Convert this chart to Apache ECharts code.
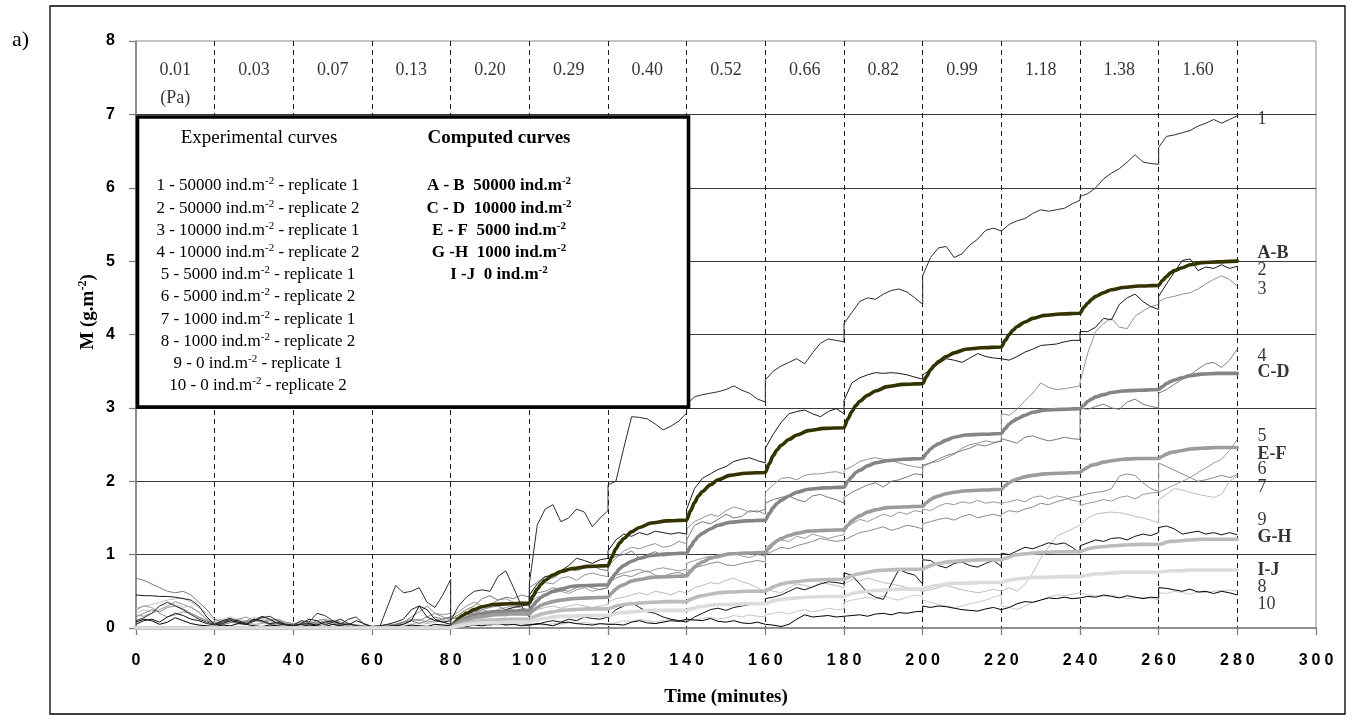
<!DOCTYPE html>
<html><head><meta charset="utf-8">
<script src="https://cdn.jsdelivr.net/npm/echarts@6/dist/echarts.min.js"></script>
<style>html,body{margin:0;padding:0;background:#fff}#c{width:1355px;height:719px}</style>
</head><body><div id="c"></div>
<script>
// ---------- DATA ----------
// sampling times of experimental curves (each 20-min step listed with its start and end, so jumps are vertical)
const expTime = [
0,2,4,6,8,10,12,14,16,18,20,
20,22,24,26,28,30,32,34,36,38,40,
40,42,44,46,48,50,52,54,56,58,60,
60,62,64,66,68,70,72,74,76,78,80,
80,82,84,86,88,90,92,94,96,98,100,
100,102,104,106,108,110,112,114,116,118,120,
120,122,124,126,128,130,132,134,136,138,140,
140,142,144,146,148,150,152,154,156,158,160,
160,162,164,166,168,170,172,174,176,178,180,
180,182,184,186,188,190,192,194,196,198,200,
200,202,204,206,208,210,212,214,216,218,220,
220,222,224,226,228,230,232,234,236,238,240,
240,242,244,246,248,250,252,254,256,258,260,
260,262,264,266,268,270,272,274,276,278,280];

const exp1 = [
0.1,0.14,0.2,0.3,0.35,0.3,0.25,0.18,0.12,0.08,0.05,
0.05,0.08,0.12,0.1,0.06,0.09,0.14,0.16,0.1,0.05,0.04,
0.04,0.1,0.08,0.2,0.17,0.1,0.05,0.12,0.15,0.05,0.02,
0.02,0.02,0.3,0.58,0.48,0.5,0.55,0.35,0.28,0.45,0.66,
0.1,0.3,0.42,0.5,0.52,0.5,0.7,0.78,0.55,0.3,0.15,
0.6,1.4,1.62,1.68,1.45,1.5,1.62,1.58,1.38,1.5,1.6,
1.95,2.0,2.45,2.88,2.87,2.85,2.78,2.7,2.75,2.82,2.93,
3.05,3.15,3.18,3.2,3.22,3.25,3.3,3.24,3.2,3.12,3.08,
3.38,3.5,3.57,3.62,3.67,3.6,3.75,3.88,3.94,3.92,3.9,
4.15,4.3,4.45,4.5,4.48,4.55,4.6,4.62,4.58,4.5,4.41,
4.8,5.05,5.18,5.2,5.05,5.1,5.22,5.3,5.42,5.45,5.41,
5.42,5.5,5.55,5.58,5.65,5.7,5.68,5.7,5.72,5.78,5.83,
5.88,5.92,6.0,6.12,6.2,6.26,6.35,6.45,6.35,6.33,6.32,
6.55,6.7,6.72,6.75,6.78,6.84,6.88,6.93,6.88,6.93,6.98];

const exp2 = [
0.45,0.44,0.44,0.43,0.43,0.42,0.4,0.38,0.3,0.15,0.05,
0.05,0.1,0.13,0.08,0.05,0.1,0.16,0.12,0.06,0.04,0.03,
0.03,0.06,0.12,0.1,0.04,0.08,0.12,0.06,0.03,0.02,0.02,
0.02,0.03,0.05,0.08,0.12,0.25,0.3,0.15,0.1,0.08,0.1,
0.05,0.08,0.12,0.15,0.18,0.2,0.22,0.25,0.28,0.3,0.32,
0.45,0.6,0.7,0.72,0.78,0.85,0.95,0.92,0.88,0.93,0.95,
1.05,1.2,1.28,1.25,1.3,1.27,1.32,1.3,1.28,1.3,1.28,
1.62,1.9,2.04,2.1,2.16,2.2,2.27,2.3,2.32,2.28,2.25,
2.45,2.64,2.8,2.92,2.95,2.97,2.92,2.88,2.95,2.99,2.92,
3.1,3.34,3.41,3.45,3.48,3.47,3.48,3.47,3.45,3.42,3.39,
3.45,3.52,3.6,3.67,3.65,3.62,3.68,3.74,3.7,3.68,3.67,
3.67,3.65,3.7,3.76,3.8,3.85,3.86,3.87,3.9,3.92,3.92,
4.04,4.04,4.1,4.22,4.2,4.41,4.5,4.55,4.45,4.38,4.34,
4.52,4.69,4.85,5.01,5.03,4.87,4.92,4.9,4.95,4.9,4.93];

const exp3 = [
0.18,0.16,0.2,0.25,0.3,0.36,0.32,0.28,0.22,0.12,0.06,
0.06,0.1,0.08,0.12,0.15,0.1,0.08,0.12,0.1,0.06,0.05,
0.05,0.08,0.05,0.1,0.12,0.08,0.06,0.05,0.04,0.03,0.02,
0.02,0.03,0.04,0.05,0.08,0.12,0.1,0.15,0.2,0.18,0.2,
0.15,0.22,0.3,0.35,0.3,0.32,0.38,0.4,0.35,0.33,0.3,
0.45,0.55,0.62,0.6,0.68,0.7,0.65,0.72,0.75,0.72,0.7,
0.85,0.95,1.05,1.1,1.08,1.12,1.15,1.1,1.12,1.18,1.15,
1.35,1.45,1.5,1.55,1.52,1.6,1.65,1.62,1.58,1.6,1.55,
1.85,1.95,2.04,2.05,2.02,2.08,2.1,2.1,2.12,2.13,2.1,
2.15,2.2,2.27,2.3,2.32,2.3,2.28,2.25,2.22,2.2,2.18,
2.22,2.25,2.27,2.32,2.37,2.45,2.5,2.52,2.55,2.53,2.55,
2.92,2.9,2.98,3.1,3.2,3.34,3.28,3.25,3.26,3.28,3.3,
3.35,3.75,4.04,4.15,4.22,4.1,4.08,4.25,4.32,4.38,4.41,
4.45,4.5,4.52,4.55,4.57,4.62,4.69,4.75,4.8,4.75,4.66];

const exp4 = [
0.68,0.65,0.6,0.55,0.5,0.48,0.5,0.45,0.35,0.25,0.12,
0.12,0.08,0.1,0.06,0.08,0.12,0.09,0.05,0.07,0.04,0.03,
0.03,0.05,0.08,0.06,0.1,0.07,0.04,0.06,0.03,0.02,0.02,
0.02,0.03,0.02,0.05,0.08,0.1,0.06,0.1,0.15,0.12,0.15,
0.12,0.18,0.25,0.3,0.4,0.44,0.38,0.42,0.4,0.45,0.42,
0.55,0.62,0.7,0.68,0.75,0.8,0.78,0.82,0.85,0.8,0.78,
0.9,0.98,1.0,1.05,0.95,1.0,1.04,0.98,1.0,1.03,1.0,
1.2,1.4,1.45,1.42,1.48,1.55,1.5,1.52,1.6,1.58,1.62,
1.7,1.75,1.78,1.8,1.75,1.72,1.8,1.82,1.78,1.75,1.7,
1.78,1.85,1.9,1.95,1.98,1.92,2.0,2.02,2.06,2.1,2.09,
2.2,2.25,2.3,2.35,2.38,2.42,2.45,2.5,2.48,2.52,2.55,
2.58,2.55,2.52,2.6,2.62,2.58,2.55,2.57,2.6,2.58,2.57,
3.0,2.98,3.02,3.05,3.0,2.98,3.08,3.12,3.05,3.02,3.0,
3.2,3.25,3.32,3.39,3.45,3.53,3.6,3.62,3.55,3.65,3.8];

const exp5 = [
0.25,0.3,0.28,0.2,0.15,0.18,0.22,0.2,0.15,0.1,0.08,
0.08,0.05,0.07,0.1,0.08,0.05,0.06,0.1,0.12,0.08,0.06,
0.06,0.04,0.05,0.08,0.06,0.1,0.08,0.05,0.03,0.02,0.02,
0.02,0.03,0.05,0.04,0.06,0.1,0.12,0.08,0.1,0.12,0.15,
0.12,0.15,0.2,0.22,0.25,0.22,0.25,0.28,0.3,0.27,0.25,
0.35,0.42,0.45,0.48,0.5,0.47,0.52,0.55,0.5,0.53,0.55,
0.65,0.72,0.75,0.78,0.8,0.76,0.8,0.82,0.8,0.78,0.8,
0.88,0.92,0.95,0.98,0.95,1.0,1.02,0.98,0.96,1.0,0.98,
1.1,1.15,1.2,1.18,1.25,1.22,1.28,1.25,1.22,1.25,1.27,
1.38,1.42,1.48,1.45,1.5,1.55,1.52,1.58,1.55,1.6,1.58,
1.62,1.6,1.66,1.7,1.68,1.72,1.7,1.74,1.7,1.72,1.7,
1.7,1.72,1.75,1.72,1.78,1.8,1.76,1.8,1.78,1.74,1.72,
1.67,1.7,1.72,1.75,1.73,1.78,1.8,1.76,1.82,1.84,1.85,
1.85,1.9,1.95,2.0,2.05,2.12,2.18,2.25,2.3,2.42,2.57];

const exp6 = [
0.15,0.2,0.25,0.22,0.28,0.3,0.26,0.2,0.14,0.1,0.06,
0.06,0.04,0.08,0.06,0.1,0.12,0.08,0.05,0.04,0.06,0.04,
0.04,0.02,0.05,0.04,0.07,0.05,0.03,0.06,0.04,0.02,0.02,
0.02,0.01,0.03,0.05,0.08,0.15,0.22,0.3,0.2,0.15,0.12,
0.1,0.14,0.18,0.2,0.25,0.28,0.3,0.25,0.28,0.32,0.3,
0.42,0.48,0.5,0.55,0.52,0.5,0.55,0.58,0.55,0.52,0.55,
0.6,0.68,0.72,0.7,0.75,0.78,0.72,0.7,0.74,0.76,0.72,
0.78,0.82,0.85,0.88,0.9,0.86,0.85,0.88,0.9,0.92,0.9,
1.0,1.05,1.1,1.08,1.12,1.15,1.18,1.22,1.2,1.18,1.2,
1.22,1.25,1.3,1.32,1.35,1.38,1.33,1.36,1.4,1.38,1.35,
1.42,1.45,1.48,1.5,1.47,1.52,1.55,1.5,1.53,1.55,1.52,
1.55,1.6,1.58,1.62,1.65,1.7,1.68,1.72,1.75,1.78,1.8,
1.81,1.83,1.85,1.86,1.9,2.07,2.1,2.08,1.98,1.9,1.86,
2.25,2.2,2.15,2.1,2.05,2.0,2.02,2.05,2.08,2.05,2.09];

const exp7 = [
0.27,0.3,0.32,0.35,0.38,0.4,0.41,0.35,0.28,0.2,0.1,
0.1,0.12,0.15,0.1,0.08,0.12,0.14,0.1,0.12,0.08,0.06,
0.06,0.08,0.05,0.1,0.12,0.08,0.06,0.05,0.04,0.03,0.03,
0.03,0.02,0.04,0.03,0.06,0.05,0.08,0.06,0.08,0.1,0.12,
0.08,0.1,0.12,0.15,0.13,0.15,0.18,0.16,0.2,0.18,0.17,
0.22,0.25,0.28,0.3,0.27,0.3,0.32,0.3,0.28,0.3,0.32,
0.35,0.4,0.42,0.45,0.48,0.45,0.5,0.48,0.45,0.5,0.48,
0.5,0.55,0.58,0.62,0.6,0.65,0.68,0.63,0.6,0.55,0.5,
0.55,0.5,0.48,0.55,0.6,0.58,0.55,0.62,0.6,0.58,0.55,
0.6,0.66,0.64,0.68,0.65,0.62,0.6,0.58,0.55,0.52,0.5,
0.48,0.52,0.55,0.58,0.55,0.52,0.5,0.48,0.5,0.53,0.5,
0.5,0.55,0.5,0.6,0.75,0.95,1.1,1.25,1.3,1.35,1.4,
1.42,1.5,1.55,1.57,1.58,1.57,1.55,1.52,1.5,1.47,1.43,
1.75,1.82,1.9,1.88,1.85,1.82,1.8,1.78,1.82,2.0,2.07];

const exp8 = [
0.08,0.12,0.1,0.05,0.08,0.14,0.1,0.06,0.04,0.03,0.02,
0.02,0.04,0.03,0.06,0.05,0.03,0.02,0.04,0.03,0.02,0.01,
0.01,0.02,0.04,0.03,0.02,0.05,0.03,0.02,0.01,0.02,0.01,
0.01,0.01,0.02,0.03,0.02,0.04,0.03,0.02,0.05,0.04,0.03,
0.03,0.05,0.02,0.04,0.03,0.05,0.06,0.04,0.05,0.03,0.04,
0.04,0.06,0.05,0.03,0.07,0.08,0.06,0.05,0.04,0.06,0.05,
0.06,0.05,0.04,0.08,0.1,0.07,0.06,0.08,0.1,0.09,0.12,
0.12,0.11,0.1,0.13,0.09,0.08,0.1,0.07,0.06,0.08,0.05,
0.05,0.04,0.02,0.05,0.12,0.18,0.15,0.16,0.17,0.15,0.16,
0.16,0.17,0.18,0.16,0.19,0.2,0.18,0.21,0.2,0.22,0.23,
0.3,0.28,0.3,0.29,0.27,0.25,0.24,0.23,0.26,0.28,0.25,
0.25,0.28,0.33,0.36,0.35,0.38,0.41,0.4,0.42,0.4,0.41,
0.41,0.43,0.42,0.45,0.43,0.41,0.44,0.42,0.4,0.42,0.41,
0.55,0.54,0.52,0.5,0.53,0.49,0.5,0.47,0.5,0.48,0.45];

const exp9 = [
0.05,0.1,0.12,0.08,0.15,0.2,0.17,0.12,0.1,0.06,0.04,
0.04,0.06,0.1,0.08,0.05,0.12,0.1,0.06,0.08,0.05,0.03,
0.03,0.05,0.06,0.04,0.08,0.1,0.06,0.04,0.1,0.06,0.02,
0.02,0.01,0.02,0.03,0.05,0.1,0.3,0.25,0.12,0.08,0.05,
0.05,0.03,0.05,0.08,0.06,0.04,0.06,0.05,0.08,0.06,0.05,
0.06,0.05,0.08,0.1,0.08,0.12,0.1,0.15,0.13,0.12,0.15,
0.17,0.25,0.3,0.35,0.28,0.22,0.2,0.15,0.12,0.1,0.08,
0.1,0.15,0.2,0.25,0.27,0.24,0.28,0.3,0.32,0.35,0.33,
0.4,0.42,0.45,0.5,0.55,0.52,0.56,0.6,0.63,0.62,0.6,
0.75,0.72,0.6,0.48,0.42,0.39,0.6,0.8,0.75,0.72,0.6,
0.93,0.92,0.85,0.82,0.88,0.9,0.85,0.83,0.88,0.92,0.84,
1.02,1.0,1.05,1.1,1.08,1.12,1.16,1.14,1.16,1.1,1.02,
1.12,1.16,1.2,1.18,1.22,1.23,1.2,1.25,1.28,1.26,1.3,
1.37,1.39,1.35,1.28,1.3,1.32,1.28,1.3,1.27,1.3,1.27];

const exp10 = [
0.2,0.25,0.22,0.3,0.35,0.32,0.28,0.3,0.2,0.12,0.08,
0.08,0.1,0.14,0.12,0.1,0.15,0.12,0.08,0.1,0.08,0.06,
0.06,0.08,0.1,0.06,0.05,0.08,0.06,0.04,0.03,0.02,0.02,
0.02,0.01,0.01,0.02,0.03,0.02,0.04,0.03,0.02,0.05,0.06,
0.04,0.03,0.05,0.04,0.06,0.05,0.04,0.06,0.05,0.04,0.03,
0.03,0.05,0.04,0.06,0.05,0.07,0.06,0.08,0.06,0.05,0.06,
0.08,0.07,0.1,0.09,0.12,0.1,0.08,0.1,0.12,0.1,0.11,
0.12,0.1,0.13,0.15,0.12,0.14,0.17,0.15,0.18,0.16,0.15,
0.18,0.2,0.22,0.19,0.23,0.25,0.22,0.24,0.27,0.25,0.26,
0.35,0.38,0.4,0.42,0.39,0.44,0.4,0.38,0.42,0.45,0.43,
0.38,0.35,0.32,0.3,0.28,0.3,0.33,0.35,0.38,0.42,0.45,
0.3,0.28,0.25,0.3,0.35,0.38,0.42,0.45,0.44,0.46,0.48,
0.47,0.45,0.44,0.43,0.45,0.42,0.4,0.41,0.42,0.4,0.39,
0.48,0.47,0.5,0.48,0.46,0.49,0.48,0.5,0.51,0.52,0.5];

// computed (model) curves
const compTime = [0,
80,81,82,83,84,86,88,91,95,
100,101,102,103,104,106,108,111,115,
120,121,122,123,124,126,128,131,135,
140,141,142,143,144,146,148,151,155,
160,161,162,163,164,166,168,171,175,
180,181,182,183,184,186,188,191,195,
200,201,202,203,204,206,208,211,215,
220,221,222,223,224,226,228,231,235,
240,241,242,243,244,246,248,251,255,
260,261,262,263,264,266,268,271,275,
280];
const compAB = [0,
0,0.07,0.13,0.17,0.2,0.25,0.29,0.32,0.33,
0.34,0.44,0.53,0.6,0.65,0.72,0.77,0.81,0.84,
0.85,0.97,1.08,1.16,1.22,1.31,1.37,1.43,1.46,
1.47,1.6,1.71,1.8,1.86,1.95,2.02,2.08,2.11,
2.12,2.24,2.35,2.43,2.49,2.57,2.63,2.69,2.72,
2.73,2.85,2.95,3.03,3.09,3.17,3.23,3.29,3.32,
3.33,3.43,3.52,3.58,3.63,3.7,3.75,3.8,3.82,
3.83,3.92,4.0,4.06,4.11,4.17,4.22,4.26,4.28,
4.29,4.37,4.43,4.48,4.52,4.57,4.61,4.64,4.66,
4.67,4.74,4.79,4.84,4.87,4.91,4.95,4.98,4.99,
5.0];
const compCD = [0,
0,0.05,0.09,0.12,0.14,0.18,0.2,0.22,0.23,
0.24,0.31,0.37,0.42,0.45,0.5,0.53,0.57,0.58,
0.59,0.68,0.75,0.81,0.85,0.91,0.95,0.99,1.01,
1.02,1.11,1.19,1.25,1.29,1.35,1.4,1.44,1.46,
1.47,1.56,1.64,1.7,1.74,1.8,1.85,1.89,1.91,
1.92,2.0,2.06,2.12,2.15,2.21,2.25,2.28,2.3,
2.31,2.38,2.44,2.48,2.51,2.56,2.6,2.63,2.64,
2.65,2.72,2.78,2.82,2.85,2.9,2.94,2.97,2.98,
2.99,3.04,3.09,3.12,3.15,3.18,3.21,3.23,3.24,
3.25,3.29,3.33,3.36,3.38,3.41,3.44,3.46,3.47,
3.47];
const compEF = [0,
0,0.04,0.07,0.1,0.11,0.14,0.16,0.18,0.19,
0.19,0.24,0.28,0.31,0.33,0.36,0.38,0.4,0.41,
0.42,0.48,0.53,0.57,0.59,0.64,0.66,0.69,0.7,
0.71,0.77,0.83,0.87,0.9,0.95,0.98,1.01,1.02,
1.03,1.09,1.15,1.19,1.22,1.26,1.29,1.32,1.33,
1.34,1.4,1.46,1.5,1.53,1.58,1.61,1.64,1.65,
1.66,1.71,1.75,1.78,1.8,1.83,1.85,1.87,1.88,
1.89,1.94,1.98,2.01,2.03,2.06,2.08,2.1,2.11,
2.12,2.16,2.19,2.22,2.23,2.26,2.28,2.3,2.31,
2.31,2.34,2.37,2.39,2.4,2.42,2.44,2.45,2.46,
2.46];
const compGH = [0,
0,0.02,0.04,0.06,0.07,0.09,0.1,0.11,0.12,
0.12,0.15,0.17,0.19,0.2,0.22,0.24,0.25,0.26,
0.26,0.28,0.3,0.31,0.32,0.33,0.34,0.35,0.36,
0.36,0.39,0.41,0.43,0.44,0.46,0.48,0.49,0.5,
0.5,0.53,0.56,0.58,0.6,0.62,0.63,0.65,0.66,
0.66,0.69,0.71,0.73,0.74,0.76,0.78,0.79,0.8,
0.8,0.83,0.85,0.87,0.88,0.9,0.91,0.92,0.93,
0.93,0.95,0.97,0.99,1.0,1.01,1.02,1.03,1.04,
1.04,1.06,1.08,1.09,1.1,1.11,1.12,1.13,1.14,
1.14,1.15,1.17,1.18,1.18,1.19,1.2,1.21,1.21,
1.21];
const compIJ = [0,
0,0.02,0.03,0.04,0.05,0.06,0.07,0.07,0.08,
0.08,0.1,0.11,0.13,0.13,0.15,0.16,0.16,0.17,
0.17,0.18,0.2,0.21,0.21,0.22,0.23,0.24,0.24,
0.24,0.26,0.27,0.29,0.29,0.31,0.32,0.32,0.33,
0.33,0.35,0.37,0.38,0.39,0.4,0.41,0.42,0.43,
0.43,0.45,0.47,0.48,0.49,0.5,0.51,0.52,0.53,
0.53,0.55,0.56,0.58,0.58,0.6,0.61,0.61,0.62,
0.62,0.64,0.65,0.66,0.67,0.68,0.69,0.69,0.7,
0.7,0.71,0.72,0.73,0.74,0.74,0.75,0.76,0.76,
0.76,0.77,0.77,0.78,0.78,0.78,0.79,0.79,0.79,
0.79];

// shear stress of each 20-min step (Pa)
const stepMid = [10,30,50,70,90,110,130,150,170,190,210,230,250,270];
const stepPressure = ['0.01','0.03','0.07','0.13','0.20','0.29','0.40','0.52','0.66','0.82','0.99','1.18','1.38','1.60'];
const pressureRow = 7.6;
const paRow = 7.22;

// curve labels at the right end
const endNames = ['1','A-B','2','3','4','C-D','5','E-F','6','7','9','G-H','I-J','8','10'];
const endValues = [6.93,5.1,4.88,4.61,3.71,3.48,2.61,2.37,2.16,1.92,1.47,1.23,0.79,0.56,0.33];
const endLabelX = 285;

const xTicks = {min:0, max:300, interval:20};
const yTicks = {min:0, max:8, interval:1};

const expLegend = [
 ['1 - 50000 ind.m','- replicate 1'],['2 - 50000 ind.m','- replicate 2'],
 ['3 - 10000 ind.m','- replicate 1'],['4 - 10000 ind.m','- replicate 2'],
 ['5 - 5000 ind.m','- replicate 1'],['6 - 5000 ind.m','- replicate 2'],
 ['7 - 1000 ind.m','- replicate 1'],['8 - 1000 ind.m','- replicate 2'],
 ['9 - 0 ind.m','- replicate 1'],['10 - 0 ind.m','- replicate 2']];
const compLegend = ['A - B  50000 ind.m','C - D  10000 ind.m','E - F  5000 ind.m','G -H  1000 ind.m','I -J  0 ind.m'];

// ---------- CHART ----------
const chart = echarts.init(document.getElementById('c'), null, {renderer:'canvas'});
const pairs = (t, v) => t.map((x, i) => [x, v[i]]);
const serif = 'Liberation Serif';
const sans = 'Liberation Sans';

const expSets = [exp7, exp10, exp5, exp6, exp3, exp4, exp9, exp8, exp2, exp1];
const expColors = ['#bdbdbd', '#c8c8c8', '#9a9a9a', '#8a8a8a', '#939393', '#7a7a7a', '#111111', '#000000', '#1c1c1c', '#2e2e2e'];
const compSets = [compAB, compCD, compEF, compGH, compIJ];
const compColors = ['#333300', '#858585', '#9c9c9c', '#bcbcbc', '#dcdcdc'];

const series = [];
expSets.forEach((v, i) => series.push({
  type:'line', data: pairs(expTime, v), symbol:'none', silent:true, z:3,
  lineStyle:{width:1, color: expColors[i]}
}));
compSets.forEach((v, i) => series.push({
  type:'line', data: pairs(compTime, v), symbol:'none', silent:true, z:4,
  smooth:0.3, smoothMonotone:'x',
  lineStyle:{width:3.6, color: compColors[i], cap:'round', join:'round'}
}));
// pressure labels
series.push({
  type:'scatter', silent:true, z:5, symbolSize:1, itemStyle:{color:'rgba(0,0,0,0)'},
  data: stepMid.map(x => [x, pressureRow]),
  label:{show:true, position:'inside', formatter: p => stepPressure[p.dataIndex],
    fontFamily: serif, fontSize:18, color:'#000'}
});
series.push({
  type:'scatter', silent:true, z:5, symbolSize:1, itemStyle:{color:'rgba(0,0,0,0)'},
  data: [[stepMid[0], paRow]],
  label:{show:true, position:'inside', formatter: '(Pa)', fontFamily: serif, fontSize:18, color:'#000'}
});
// right-end curve labels
series.push({
  type:'scatter', silent:true, z:5, symbolSize:1, itemStyle:{color:'rgba(0,0,0,0)'},
  data: endValues.map(v => [endLabelX, v]),
  label:{show:true, position:'right', distance:0,
    formatter: p => { const n = endNames[p.dataIndex]; return /[A-Z]/.test(n) ? '{b|' + n + '}' : '{n|' + n + '}'; },
    rich:{ b:{fontFamily: serif, fontWeight:'bold', fontSize:18, color:'#000'},
           n:{fontFamily: serif, fontSize:18, color:'#000'} }}
});

const xSplit = []; for (let v = xTicks.min; v <= xTicks.max; v += xTicks.interval) xSplit.push((v === xTicks.min || v === xTicks.max) ? 'rgba(0,0,0,0)' : '#1a1a1a');
const ySplit = []; for (let v = yTicks.min; v <= yTicks.max; v += yTicks.interval) ySplit.push((v === yTicks.min || v === yTicks.max) ? 'rgba(0,0,0,0)' : '#3a3a3a');
const spaced = v => String(v).split('').join('\u2005');

// frame, legend box, texts
const gfx = [];
gfx.push({type:'rect', z:1, shape:{x:50, y:6, width:1295, height:708}, style:{fill:'none', stroke:'#000', lineWidth:1.3}, silent:true});
gfx.push({type:'text', z:100, x:12, y:40, style:{text:'a)', font:'22px "Liberation Serif"', fill:'#000', verticalAlign:'middle'}, silent:true});
gfx.push({type:'rect', z:100, shape:{x:137.5, y:117, width:551, height:290}, style:{fill:'#fff', stroke:'#000', lineWidth:3.6}, silent:true});
const richR = {
  s:{fontFamily: serif, fontSize:11, verticalAlign:'top', lineHeight:22, padding:[1,0,0,0]},
  bs:{fontFamily: serif, fontSize:11, fontWeight:'bold', verticalAlign:'top', lineHeight:22, padding:[1,0,0,0]}
};
gfx.push({type:'text', z:101, x:259, y:138, style:{text:'Experimental curves', font:'19px "Liberation Serif"', fill:'#000', align:'center', verticalAlign:'middle'}, silent:true});
gfx.push({type:'text', z:101, x:499, y:138, style:{text:'Computed curves', font:'bold 19px "Liberation Serif"', fill:'#000', align:'center', verticalAlign:'middle'}, silent:true});
expLegend.forEach((l, i) => gfx.push({type:'text', z:101, x:258, y:186 + i * 22.2, silent:true,
  style:{text: l[0] + '{s|-2} ' + l[1], fontFamily: serif, fontSize:17, lineHeight:22, fill:'#000', align:'center', verticalAlign:'middle', rich: richR}}));
compLegend.forEach((l, i) => gfx.push({type:'text', z:101, x:499, y:186 + i * 22.2, silent:true,
  style:{text: l + '{bs|-2}', fontFamily: serif, fontWeight:'bold', fontSize:17, lineHeight:22, fill:'#000', align:'center', verticalAlign:'middle', rich: richR}}));
gfx.push({type:'text', z:101, x:88, y:312, rotation: Math.PI / 2, silent:true,
  style:{text:'M (g.m{bt|-2})', fontFamily: serif, fontWeight:'bold', fontSize:19, lineHeight:24, fill:'#000', align:'center', verticalAlign:'middle',
    rich:{bt:{fontFamily: serif, fontWeight:'bold', fontSize:12, verticalAlign:'top', lineHeight:24, padding:[1,0,0,0]}}}});
gfx.push({type:'text', z:101, x:726, y:697, silent:true,
  style:{text:'Time (minutes)', font:'bold 19px "Liberation Serif"', fill:'#000', align:'center', verticalAlign:'middle'}});

chart.setOption({
  animation:false,
  backgroundColor:'#fff',
  grid:{left:136, right:39, top:41, bottom:91, show:true, borderColor:'#8a8a8a', borderWidth:1, backgroundColor:'rgba(0,0,0,0)'},
  xAxis:{type:'value', min:xTicks.min, max:xTicks.max, interval:xTicks.interval,
    axisLine:{show:true, onZero:false, lineStyle:{color:'#808080', width:1.6}},
    axisTick:{show:true, length:7, lineStyle:{color:'#808080', width:1.3}},
    axisLabel:{fontFamily: sans, fontWeight:'bold', fontSize:16, color:'#000', margin:25, formatter: spaced},
    splitLine:{show:true, lineStyle:{type:[5,4], color:xSplit, width:1}}},
  yAxis:{type:'value', min:yTicks.min, max:yTicks.max, interval:yTicks.interval,
    axisLine:{show:true, onZero:false, lineStyle:{color:'#808080', width:1.6}},
    axisTick:{show:true, length:7, lineStyle:{color:'#808080', width:1.3}},
    axisLabel:{fontFamily: sans, fontWeight:'bold', fontSize:16, color:'#000', margin:21},
    splitLine:{show:true, lineStyle:{color:ySplit, width:1}}},
  graphic: gfx,
  series: series
});
</script></body></html>
